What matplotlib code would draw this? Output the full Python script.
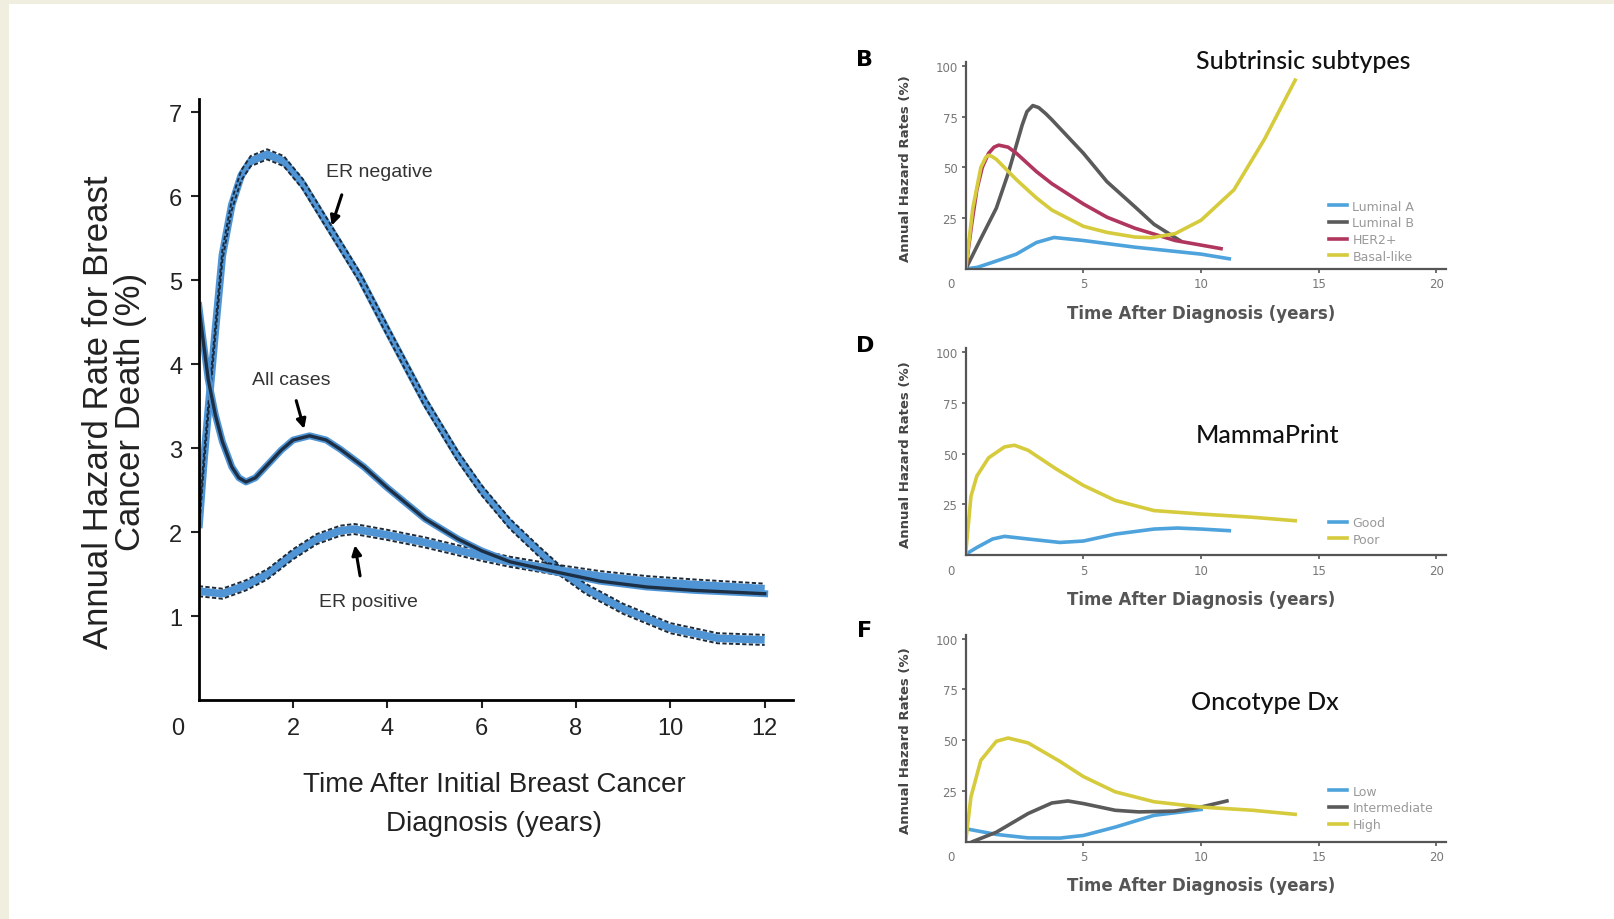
import matplotlib as mpl
mpl.use('Agg')
import matplotlib.pyplot as plt
from matplotlib.patches import Rectangle
import numpy as np

# left panel: annual hazard rate (%) vs years
neg_x = [0, 0.1, 0.2, 0.35, 0.5, 0.7, 0.9, 1.1, 1.45, 1.8, 2.2, 2.8, 3.4, 4.0, 4.8, 5.5, 6.0, 6.6, 7.2, 7.65, 8.2, 9.0, 10.0, 11.0, 12.0]
neg_y = [2.05, 2.8, 3.45, 4.4, 5.3, 5.9, 6.25, 6.42, 6.5, 6.42, 6.15, 5.6, 5.05, 4.4, 3.55, 2.9, 2.5, 2.1, 1.78, 1.55, 1.33, 1.09, 0.86, 0.74, 0.72]
all_x = [0, 0.1, 0.2, 0.35, 0.5, 0.7, 0.85, 1.0, 1.2, 1.45, 1.75, 2.0, 2.35, 2.7, 3.0, 3.5, 4.0, 4.8, 5.5, 6.0, 6.6, 7.65, 8.5, 9.5, 10.5, 12.0]
all_y = [4.7, 4.25, 3.82, 3.4, 3.08, 2.78, 2.65, 2.6, 2.65, 2.8, 2.98, 3.1, 3.15, 3.1, 2.99, 2.78, 2.53, 2.16, 1.92, 1.78, 1.65, 1.52, 1.42, 1.35, 1.31, 1.27]
pos_x = [0, 0.5, 1.0, 1.45, 2.0, 2.5, 3.0, 3.3, 4.0, 4.8, 6.0, 6.6, 7.65, 8.5, 9.5, 10.5, 12.0]
pos_y = [1.3, 1.27, 1.37, 1.5, 1.74, 1.92, 2.02, 2.04, 1.97, 1.88, 1.72, 1.65, 1.55, 1.48, 1.42, 1.38, 1.33]
band = 0.06

# panel B: intrinsic subtypes
lumA_x = [0, 0.5, 1.2, 2.15, 3.0, 3.75, 5.0, 7.2, 10.0, 11.2]
lumA_y = [0, 0.8, 3.5, 7.3, 13, 15.5, 14, 10.7, 7.3, 5]
lumB_x = [0, 0.6, 1.3, 1.8, 2.15, 2.4, 2.6, 2.85, 3.1, 3.4, 3.66, 5.0, 6.0, 7.2, 8.0, 9.1]
lumB_y = [0, 14, 30, 47, 61, 71, 77.5, 80.5, 79.5, 76.5, 73.5, 57, 43, 30.5, 22, 14]
her2_x = [0, 0.25, 0.47, 0.7, 0.97, 1.2, 1.4, 1.8, 2.15, 3.0, 3.66, 5.0, 6.0, 7.2, 8.9, 10.85]
her2_y = [0, 22, 39, 50, 57, 60, 61, 60, 57, 48, 42, 32, 25.5, 20, 14, 10]
basal_x = [0, 0.15, 0.3, 0.64, 0.85, 0.97, 1.1, 1.3, 2.15, 3.0, 3.66, 5.0, 6.0, 7.2, 7.9, 8.9, 10.0, 11.4, 12.7, 14.0]
basal_y = [0, 15, 30, 50, 55, 56, 55.5, 54, 44, 35, 29, 21, 18, 15.7, 15.4, 17.4, 24, 39, 64, 93]

# panel D: MammaPrint
good_x = [0, 0.47, 1.14, 1.65, 2.65, 4.0, 5.0, 6.35, 8.0, 9.0, 10.0, 11.2]
good_y = [0.5, 3.8, 8, 9.3, 8, 6.3, 7, 10.4, 12.9, 13.4, 12.9, 12.1]
poor_x = [0, 0.22, 0.47, 0.97, 1.65, 2.07, 2.65, 3.83, 5.0, 6.35, 8.0, 10.0, 12.2, 14.0]
poor_y = [1.3, 29, 39, 48, 53.4, 54.2, 51.7, 42.6, 34.4, 27, 22, 20.3, 18.7, 17]

# panel F: Oncotype Dx
low_x = [0, 1.3, 2.65, 4.0, 5.0, 6.35, 8.0, 10.0]
low_y = [6.3, 3.5, 1.8, 1.7, 3, 7.1, 12.9, 15.8]
int_x = [0.3, 1.3, 2.65, 3.66, 4.34, 5.0, 6.35, 7.36, 8.87, 10.0, 11.1]
int_y = [0, 4.6, 13.8, 19, 20, 18.7, 15.4, 14.6, 15, 17, 20]
high_x = [0, 0.22, 0.64, 1.3, 1.8, 2.65, 4.0, 5.0, 6.35, 8.0, 10.0, 12.2, 14.0]
high_y = [0.5, 22, 40, 49.4, 51, 48.6, 39.5, 32, 24.5, 19.6, 17, 15.4, 13.4]

BLUE = '#4ea3dc'
GRAY = '#5a5a5a'
RED = '#b0365e'
YEL = '#d6cb3c'
ARIAL = 'Liberation Sans'

fig = plt.figure(figsize=(16.15, 9.2), dpi=100, facecolor='#f0efdf')
fig.patches.append(Rectangle((9 / 1615, 0), 1, 1 - 5 / 920, transform=fig.transFigure,
                             facecolor='white', edgecolor='none', zorder=-10))

# ---- left panel
ax = fig.add_axes([0.1231, 0.2376, 0.3679, 0.6538])
ax.patch.set_alpha(0)


def band_line(xs, ys):
    xs = np.array(xs)
    ys = np.array(ys)
    ax.plot(xs, ys, color='#4f95d6', lw=5.5, solid_capstyle='butt', solid_joinstyle='round')
    for s in (-band, band):
        ax.plot(xs, ys + s, color='#1c2b3c', lw=1.4, dashes=(2.2, 1.2))


band_line(neg_x, neg_y)
band_line(pos_x, pos_y)
ax.plot(all_x, all_y, color='#4f95d6', lw=5, solid_joinstyle='round')
ax.plot(all_x, all_y, color='#1d2f45', lw=2.4, solid_joinstyle='round')

ax.set_xlim(0, 12.6)
ax.set_ylim(0, 7.16)
ax.set_xticks(range(2, 13, 2))
ax.set_yticks(range(1, 8))
for s in ('top', 'right'):
    ax.spines[s].set_visible(False)
for s in ('left', 'bottom'):
    ax.spines[s].set_linewidth(2)
ax.tick_params(width=1.5, length=6, pad=6, labelsize=17, colors='#222')
for lb in ax.get_xticklabels() + ax.get_yticklabels():
    lb.set_family(ARIAL)
ax.annotate('0', xy=(0, 0), xytext=(-15, -12), textcoords='offset points',
            ha='center', va='top', fontsize=17, family=ARIAL, color='#222')

ax.set_ylabel('Annual Hazard Rate for Breast\nCancer Death (%)', fontsize=25,
              family=ARIAL, linespacing=0.95, color='#222', va='center')
ax.yaxis.set_label_coords(-0.142, 0.481)
ax.set_xlabel('Time After Initial Breast Cancer\nDiagnosis (years)', fontsize=20,
              family=ARIAL, linespacing=1.65, color='#222', va='center')
ax.xaxis.set_label_coords(0.497, -0.172)

arrow = dict(arrowstyle='-|>', color='black', lw=2.2, mutation_scale=14)
ax.annotate('ER negative', xy=(2.8, 5.62), xytext=(3.83, 6.29), fontsize=14,
            family=ARIAL, color='#333', ha='center', va='center')
ax.annotate('', xy=(2.8, 5.62), xytext=(3.05, 6.05), arrowprops=arrow)
ax.annotate('All cases', xy=(2.25, 3.2), xytext=(1.95, 3.82), fontsize=14,
            family=ARIAL, color='#333', ha='center', va='center')
ax.annotate('', xy=(2.25, 3.2), xytext=(2.05, 3.6), arrowprops=arrow)
ax.annotate('ER positive', xy=(3.3, 1.88), xytext=(3.6, 1.18), fontsize=14,
            family=ARIAL, color='#333', ha='center', va='center')
ax.annotate('', xy=(3.3, 1.88), xytext=(3.43, 1.45), arrowprops=arrow)

# ---- right panels
panels = [
    (0.7066, 'Subtrinsic subtypes', (1303, 62),
     [(lumA_x, lumA_y, BLUE, 'Luminal A'), (lumB_x, lumB_y, GRAY, 'Luminal B'),
      (her2_x, her2_y, RED, 'HER2+'), (basal_x, basal_y, YEL, 'Basal-like')], 0.335),
    (0.3954, 'MammaPrint', (1268, 436),
     [(good_x, good_y, BLUE, 'Good'), (poor_x, poor_y, YEL, 'Poor')], 0.19),
    (0.0842, 'Oncotype Dx', (1265, 702),
     [(low_x, low_y, BLUE, 'Low'), (int_x, int_y, GRAY, 'Intermediate'),
      (high_x, high_y, YEL, 'High')], 0.275),
]

for bottom, title, tpos, series, leg_y in panels:
    a = fig.add_axes([0.598, bottom, 0.2972, 0.225])
    a.patch.set_alpha(0)
    for xs, ys, c, lab in series:
        a.plot(xs, ys, color=c, lw=2.6, label=lab, solid_joinstyle='round')
    a.set_xlim(0, 20.4)
    a.set_ylim(0, 102)
    a.set_xticks([5, 10, 15, 20])
    a.set_yticks([25, 50, 75, 100])
    for s in ('top', 'right'):
        a.spines[s].set_visible(False)
    for s in ('left', 'bottom'):
        a.spines[s].set_linewidth(1.6)
        a.spines[s].set_color('#555')
    a.tick_params(width=1.2, length=3, pad=3, labelsize=8.5, colors='#555',
                  labelcolor='#777')
    a.annotate('0', xy=(0, 0), xytext=(-11, -6), textcoords='offset points',
               ha='center', va='top', fontsize=8.5, color='#777')
    a.set_ylabel('Annual Hazard Rates (%)', fontsize=9.5, color='#444', weight='bold',
                 va='center')
    a.yaxis.set_label_coords(-0.125, 0.49)
    a.set_xlabel('Time After Diagnosis (years)', fontsize=12, color='#555', weight='bold',
                 va='center')
    a.xaxis.set_label_coords(0.49, -0.212)
    leg = a.legend(loc='upper left', bbox_to_anchor=(0.756, leg_y), frameon=False,
                   fontsize=9, handlelength=1.5, handletextpad=0.4, labelspacing=0.3,
                   borderaxespad=0, borderpad=0)
    for t in leg.get_texts():
        t.set_color('#999')
    fig.text(tpos[0] / 1615, 1 - tpos[1] / 920, title, fontsize=18, family='Lato',
             weight='medium', color='#111', ha='center', va='center')

fig.text(865 / 1615, 1 - 60 / 920, 'B', fontsize=16, weight='bold', ha='center', va='center')
fig.text(865 / 1615, 1 - 346 / 920, 'D', fontsize=16, weight='bold', ha='center', va='center')
fig.text(865 / 1615, 1 - 631 / 920, 'F', fontsize=16, weight='bold', ha='center', va='center')

plt.savefig('out.png', dpi=100, facecolor=fig.get_facecolor())
